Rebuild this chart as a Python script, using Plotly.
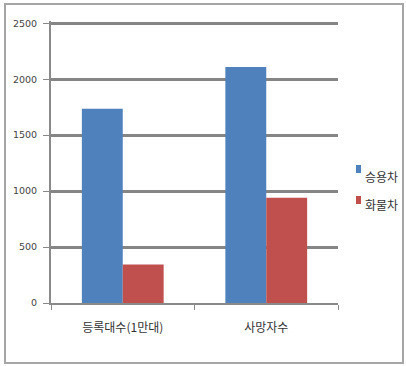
import plotly.graph_objects as go

categories = ["등록대수(1만대)", "사망자수"]
series_names = ["승용차", "화물차"]
passenger = [1735, 2110]
truck = [345, 940]
y_ticks = [0, 500, 1000, 1500, 2000, 2500]

colors = ["#4F81BD", "#C0504D"]
font_family = "Noto Sans CJK KR, Noto Sans, sans-serif"

fig = go.Figure()
for name, vals, col in zip(series_names, [passenger, truck], colors):
    fig.add_trace(go.Bar(x=categories, y=vals, name=name, marker_color=col,
                         marker_line_width=0, showlegend=False))

W, H = 406, 366
ml, mr, mt, mb = 51, 68, 21, 63
pw, ph = W - ml - mr, H - mt - mb

def px_x(x):
    return (x - ml) / pw

def px_y(y):
    return (H - mb - y) / ph

shapes = [dict(type="rect", xref="paper", yref="paper",
               x0=px_x(5), x1=px_x(403), y0=px_y(363), y1=px_y(4),
               line=dict(color="#a6a6a6", width=2), layer="below")]
annotations = []
# legend drawn in the picture's legend place
legend_rows = [(165, 176), (196, 204)]
for name, col, (sq_top, txt_y) in zip(series_names, colors, legend_rows):
    shapes.append(dict(type="rect", xref="paper", yref="paper",
                       x0=px_x(356), x1=px_x(361), y0=px_y(sq_top + 8), y1=px_y(sq_top),
                       fillcolor=col, line=dict(width=0)))
    annotations.append(dict(xref="paper", yref="paper", x=px_x(363), y=px_y(txt_y),
                            xanchor="left", yanchor="middle", showarrow=False,
                            text=name, font=dict(size=12, color="#333333",
                                                 family=font_family)))

fig.update_layout(
    width=W, height=H,
    margin=dict(l=ml, r=mr, t=mt, b=mb, pad=0, autoexpand=False),
    paper_bgcolor="white", plot_bgcolor="white",
    barmode="group", bargap=0.43, bargroupgap=0,
    font=dict(family=font_family, color="#333333"),
    showlegend=False,
    xaxis=dict(showline=True, linecolor="#8a8a8a", linewidth=2,
               ticks="outside", tickson="boundaries", ticklen=5,
               tickcolor="#8a8a8a", tickwidth=1,
               tickfont=dict(size=12, color="#333333"),
               ticklabelstandoff=13, showgrid=False),
    yaxis=dict(range=[0, 2520], tickvals=y_ticks, showline=True,
               linecolor="#8a8a8a", linewidth=2,
               ticks="outside", ticklen=6, tickcolor="#8a8a8a",
               tickfont=dict(size=9.5, color="#444444", family="DejaVu Sans"),
               ticklabelstandoff=4,
               showgrid=True, gridcolor="#858585", gridwidth=3,
               zeroline=False),
    shapes=shapes,
    annotations=annotations,
)

fig.write_html("out.html")
